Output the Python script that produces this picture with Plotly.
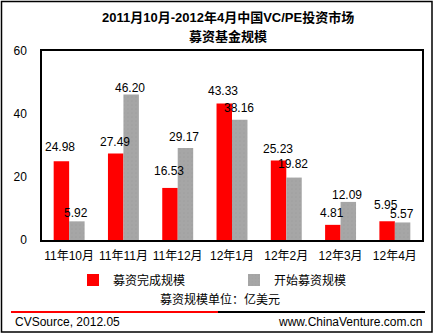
import plotly.graph_objects as go

# Monthly fundraising data, unit: USD 100M
months = ["11年10月", "11年11月", "11年12月", "12年1月", "12年2月", "12年3月", "12年4月"]
raised_closed = [24.98, 27.49, 16.53, 43.33, 25.23, 4.81, 5.95]
raised_started = [5.92, 46.20, 29.17, 38.16, 19.82, 12.09, 5.57]
y_ticks = [0, 20, 40, 60]

# Pixel lift of each value label above its bar top (label centre)
lift_closed = [14, 11, 17, 13, 12, 12, 16]
lift_started = [8, 6, 11, 12, 14, 7, 8]

W, H = 435, 335
L, R, T, B = 42, 13, 51, 95
PW, PH = W - L - R, H - T - B
BARGAP = 0.43

FONT = "Liberation Sans, Noto Sans CJK SC, sans-serif"


def px(x):
    return (x - L) / PW


def py(y):
    return (H - B - y) / PH


fig = go.Figure()
fig.add_trace(go.Bar(
    x=months, y=raised_closed, name="募资完成规模", legend="legend",
    marker=dict(color="#ff0000", line_width=0),
))
fig.add_trace(go.Bar(
    x=months, y=raised_started, name="开始募资规模", legend="legend2",
    marker=dict(color="#a6a6a6", line_width=0,
                pattern=dict(shape=".", fgcolor="#999999", bgcolor="#a6a6a6",
                             size=4, solidity=0.15)),
))

# Value labels sit above every bar, drawn on top of both series
bar_w = PW / len(months) * (1 - BARGAP) / 2
for series, lifts, shift in ((raised_closed, lift_closed, -bar_w / 2),
                             (raised_started, lift_started, bar_w / 2)):
    for m, v, lift in zip(months, series, lifts):
        fig.add_annotation(x=m, y=v, text=f"{v:.2f}", xshift=shift - 1, yshift=lift,
                           yanchor="middle", xanchor="center", showarrow=False,
                           font=dict(size=12, color="#000000"))

legend_style = dict(orientation="h", xanchor="left", yanchor="middle",
                    font=dict(size=12), bgcolor="rgba(0,0,0,0)", itemwidth=30)

fig.update_layout(
    width=W, height=H,
    margin=dict(l=L, r=R, t=T, b=B),
    paper_bgcolor="#ffffff", plot_bgcolor="#ffffff",
    font=dict(family=FONT, size=12, color="#000000"),
    barmode="group", bargap=BARGAP, bargroupgap=0,
    showlegend=True,
    legend=dict(x=px(73), y=py(280), **legend_style),
    legend2=dict(x=px(234), y=py(280), **legend_style),
    xaxis=dict(showline=True, linecolor="#000000", linewidth=1.5, mirror=True,
               ticks="", tickfont=dict(size=12), ticklabelstandoff=4),
    yaxis=dict(range=[0, 60], tickvals=y_ticks, showgrid=False, zeroline=False,
               showline=True, linecolor="#000000", linewidth=1.5, mirror=True,
               ticks="", tickfont=dict(size=12), ticklabelstandoff=11),
)

# Title
fig.add_annotation(text="<b>2011月10月-2012年4月中国VC/PE投资市场</b>", xref="paper", yref="paper",
                   x=px(228), y=py(18), yanchor="middle", showarrow=False, font=dict(size=13))
fig.add_annotation(text="<b>募资基金规模</b>", xref="paper", yref="paper",
                   x=px(228), y=py(37), yanchor="middle", showarrow=False, font=dict(size=13))

# Unit note
fig.add_annotation(text="募资规模单位：亿美元", xref="paper", yref="paper",
                   x=px(220), y=py(299), yanchor="middle", showarrow=False, font=dict(size=12))

# Footer
fig.add_annotation(text="CVSource, 2012.05", xref="paper", yref="paper",
                   x=px(13), y=py(322), xanchor="left", yanchor="middle",
                   showarrow=False, font=dict(size=12))
fig.add_annotation(text="www.ChinaVenture.com.cn", xref="paper", yref="paper",
                   x=px(424), y=py(322), xanchor="right", yanchor="middle",
                   showarrow=False, font=dict(size=12))

fig.add_shape(type="line", xref="paper", yref="paper", x0=px(11), x1=px(218),
              y0=py(312), y1=py(312), line=dict(color="#ff0000", width=2))
fig.add_shape(type="line", xref="paper", yref="paper", x0=px(218), x1=px(425),
              y0=py(312), y1=py(312), line=dict(color="#000000", width=2))

# Outer frame
fig.add_shape(type="rect", xref="paper", yref="paper", x0=px(1.5), x1=px(432),
              y0=py(1.5), y1=py(332), line=dict(color="#000000", width=1.5))

fig.write_html("out.html")
